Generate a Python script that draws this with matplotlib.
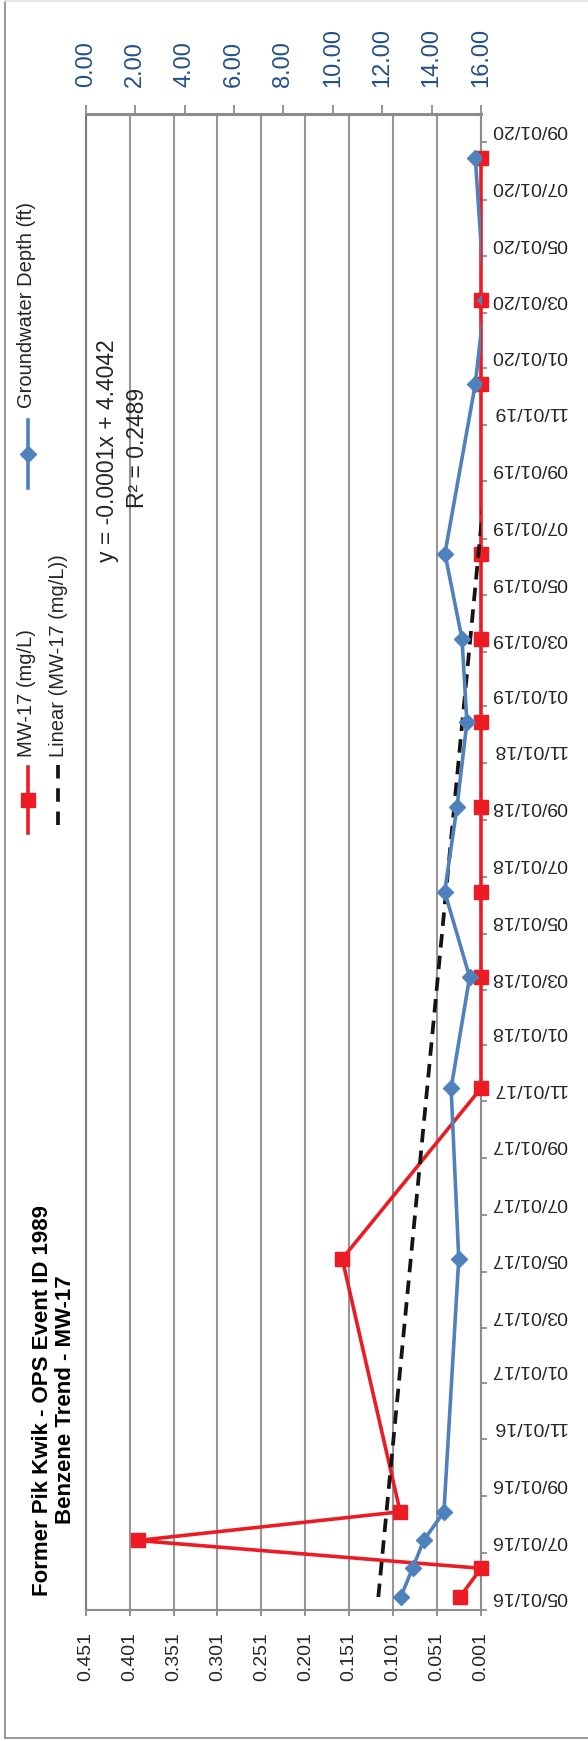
import numpy as np
import matplotlib
matplotlib.use("Agg")
import matplotlib.pyplot as plt
import matplotlib.dates as mdates
from matplotlib.transforms import blended_transform_factory, ScaledTranslation
from matplotlib.lines import Line2D
from datetime import datetime

plt.rcParams["font.family"] = ["Liberation Sans", "DejaVu Sans"]

# ---- data -----------------------------------------------------------------
sample_dates = ["2016-05-15", "2016-06-15", "2016-07-15", "2016-08-15",
                "2017-05-15", "2017-11-15", "2018-03-15", "2018-06-15",
                "2018-09-15", "2018-12-15", "2019-03-15", "2019-06-15",
                "2019-12-15", "2020-03-15", "2020-08-15"]
benzene_mgL = [0.025, 0.001, 0.392, 0.093, 0.159, 0.001, 0.001, 0.001,
               0.001, 0.001, 0.001, 0.001, 0.001, 0.001, 0.001]
gw_depth_ft = [12.75, 13.23, 13.68, 14.50, 15.10, 14.79, 15.54, 14.53,
               15.03, 15.43, 15.23, 14.54, 15.77, 16.15, 15.77]

benzene_ticks = [0.001, 0.051, 0.101, 0.151, 0.201, 0.251, 0.301, 0.351, 0.401, 0.451]
depth_ticks = [0, 2, 4, 6, 8, 10, 12, 14, 16]
date_tick_labels = ["05/01/16", "07/01/16", "09/01/16", "11/01/16", "01/01/17",
                    "03/01/17", "05/01/17", "07/01/17", "09/01/17", "11/01/17",
                    "01/01/18", "03/01/18", "05/01/18", "07/01/18", "09/01/18",
                    "11/01/18", "01/01/19", "03/01/19", "05/01/19", "07/01/19",
                    "09/01/19", "11/01/19", "01/01/20", "03/01/20", "05/01/20",
                    "07/01/20", "09/01/20"]
date_min, date_max = "2016-05-01", "2020-10-01"

title_text = "Former Pik Kwik - OPS Event ID 1989\nBenzene Trend - MW-17"
equation_text = "y = -0.0001x + 4.4042"
r2_text = "R\u00b2 = 0.2489"

# ---- styling ---------------------------------------------------------------
RED = "#ED1C24"
BLUE = "#4F81BD"
AXIS_GREY = "#8c8c8c"
TEXT = "#262626"
DEPTH_TEXT = "#23508A"
LW = 2.6

W, H = 588, 1741
fig = plt.figure(figsize=(W / 100, H / 100), dpi=100)


def fx(x):
    return x / W


def fy(y):
    return 1 - y / H


def to_num(s):
    return mdates.date2num(datetime.strptime(s, "%Y-%m-%d"))


t = np.array([to_num(s) for s in sample_dates])
tick_nums = [mdates.date2num(datetime.strptime(s, "%m/%d/%y")) for s in date_tick_labels]

left, right, top, bottom = 85.7, 481.0, 114.3, 1610.0
ax = fig.add_axes([fx(left), fy(bottom), (right - left) / W, (bottom - top) / H])
ax.set_xlim(benzene_ticks[-1], benzene_ticks[0])
ax.set_ylim(to_num(date_min), to_num(date_max))

# benzene value axis (bottom)
ax.set_xticks(benzene_ticks, labels=[f"{v:.3f}" for v in benzene_ticks])
ax.tick_params(axis="x", direction="out", length=4, width=1.3, color=AXIS_GREY,
               pad=12, labelsize=14, labelcolor=TEXT, labelrotation=90)
ax.grid(axis="x", color="#969696", lw=1.5)
ax.set_axisbelow(True)

# date axis (right side)
ax.yaxis.tick_right()
ax.set_yticks(tick_nums)
ax.tick_params(axis="y", direction="out", length=4, width=1.3, color=AXIS_GREY,
               labelright=False, labelleft=False)
lab_tr = blended_transform_factory(ax.transAxes, ax.transData) + \
    ScaledTranslation(0.107, 0.13, fig.dpi_scale_trans)
for tn, lab in zip(tick_nums, date_tick_labels):
    ax.text(1.0, tn, lab, transform=lab_tr, rotation=180, ha="left", va="center",
            fontsize=14, color=TEXT, clip_on=False)

for side in ("left", "right", "bottom"):
    ax.spines[side].set_color(AXIS_GREY)
    ax.spines[side].set_linewidth(1.5)
ax.spines["left"].set_color("#7a7a7a")
ax.spines["top"].set_visible(False)

# benzene series and linear trend
ax.plot(benzene_mgL, t, color=RED, lw=LW, marker="s", ms=10.5, clip_on=False, zorder=3)
coef = np.polyfit(t, benzene_mgL, 1)
t_line = np.array([t[0], t[-1]])
ax.plot(np.polyval(coef, t_line), t_line, color="#141414", lw=2.7,
        linestyle=(0, (3.6, 2.2)), zorder=4)

# groundwater depth on the secondary axis (top)
ax2 = ax.twiny()
ax2.set_xlim(depth_ticks[0], depth_ticks[-1])
ax2.set_xticks(depth_ticks, labels=[f"{v:.2f}" for v in depth_ticks])
ax2.tick_params(axis="x", direction="out", length=6.5, width=1.3, color=AXIS_GREY,
                pad=13, labelsize=17, labelcolor=DEPTH_TEXT, labelrotation=90)
for side in ("left", "right", "bottom"):
    ax2.spines[side].set_visible(False)
ax2.spines["top"].set_color(AXIS_GREY)
ax2.spines["top"].set_linewidth(2.2)
ax2.plot(gw_depth_ft, t, color=BLUE, lw=LW, marker="D", ms=8, zorder=5)

# legend
ftr = fig.transFigure
fig.add_artist(Line2D([fx(28), fx(28)], [fy(767), fy(833)], transform=ftr, color=RED, lw=LW))
fig.add_artist(Line2D([fx(28)], [fy(800)], transform=ftr, color=RED, marker="s", ms=10.5))
fig.text(fx(27), fy(757), "MW-17 (mg/L)", rotation=90, ha="center", va="bottom",
         fontsize=14.5, color=TEXT)
fig.add_artist(Line2D([fx(58), fx(58)], [fy(765), fy(833)], transform=ftr, color="#141414",
                      lw=2.7, linestyle=(0, (3.6, 2.6))))
fig.text(fx(59), fy(757), "Linear (MW-17 (mg/L))", rotation=90, ha="center", va="bottom",
         fontsize=14.5, color=TEXT)
fig.add_artist(Line2D([fx(28), fx(28)], [fy(420), fy(488)], transform=ftr, color=BLUE, lw=LW))
fig.add_artist(Line2D([fx(28)], [fy(454)], transform=ftr, color=BLUE, marker="D", ms=8))
fig.text(fx(27), fy(408), "Groundwater Depth (ft)", rotation=90, ha="center", va="bottom",
         fontsize=14.5, color=TEXT)

# trendline equation
fig.text(fx(107.5), fy(451), equation_text, rotation=90, ha="center", va="center",
         fontsize=16.5, color=TEXT)
fig.text(fx(137.5), fy(448), r2_text, rotation=90, ha="center", va="center",
         fontsize=16.5, color=TEXT)

# title
fig.text(fx(54), fy(1400), title_text, rotation=90, ha="center", va="center",
         ma="center", fontsize=16, fontweight="bold", color="black", linespacing=1.1)

# chart border
fig.add_artist(Line2D([fx(5), fx(5)], [fy(0.5), fy(1738)], transform=ftr, color="#8f8f8f", lw=1.3))
fig.add_artist(Line2D([fx(5), fx(600)], [fy(1738), fy(1738)], transform=ftr, color="#8f8f8f", lw=1.3))
fig.add_artist(Line2D([fx(5), fx(600)], [fy(0.5), fy(0.5)], transform=ftr, color="#e4e4e4", lw=1.3))

fig.savefig("out.png", dpi=100)
